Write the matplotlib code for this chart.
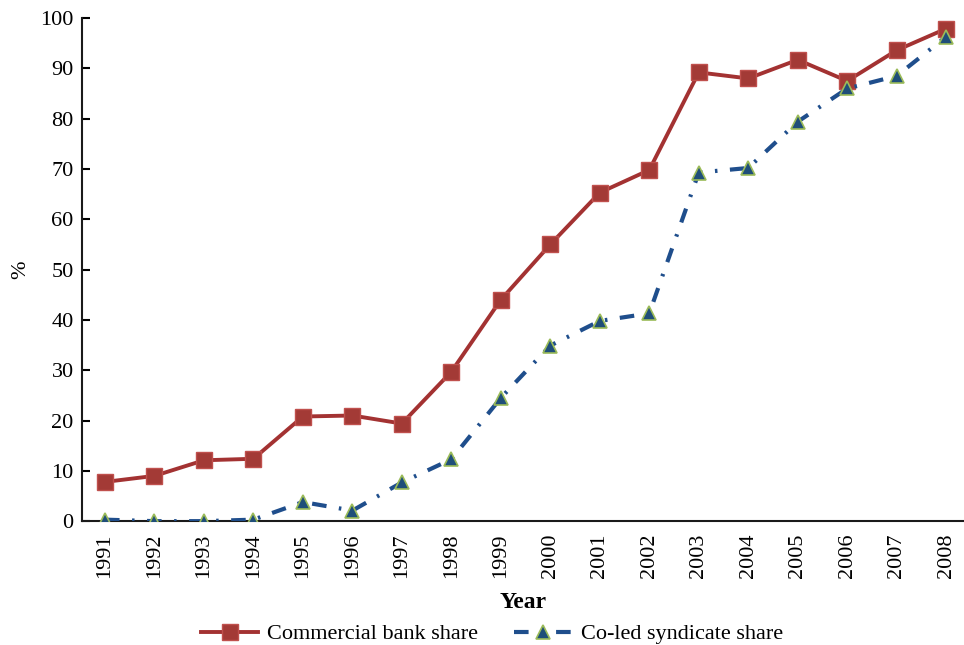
import numpy as np
import matplotlib.pyplot as plt

years = [str(y) for y in range(1991, 2009)]
commercial_bank = [7.8, 9.0, 12.1, 12.4, 20.8, 21.0, 19.4, 29.7, 44.0, 55.0, 65.3, 69.8,
                   89.2, 88.0, 91.7, 87.5, 93.6, 97.9]
co_led = [0.3, 0.0, 0.0, 0.3, 3.8, 2.1, 7.7, 12.3, 24.5, 34.9, 39.8, 41.3,
          69.3, 70.2, 79.4, 86.0, 88.5, 96.3]

plt.rcParams['font.family'] = ['Liberation Serif', 'DejaVu Serif']

fig = plt.figure(figsize=(9.64, 6.45), dpi=100)
ax = fig.add_axes([0.085, 0.192, 0.915, 0.780])

x = np.arange(len(years))
ax.plot(x, commercial_bank, color='#A33232', lw=2.8, marker='s', markersize=11,
        markerfacecolor='#A33A36', markeredgecolor='#C0504D', markeredgewidth=1,
        label='Commercial bank share', zorder=3)
ax.plot(x, co_led, color='#1F4E8C', lw=3, dashes=(3.5, 3, 0.6, 3), marker='^', markersize=10,
        markerfacecolor='#1F4E79', markeredgecolor='#9BBB59', markeredgewidth=1.2,
        label='Co-led syndicate share', zorder=4)

ax.set_xlim(-0.465, 17.36)
ax.set_ylim(0, 100)
ax.set_yticks(range(0, 101, 10))
ax.set_xticks(x)
ax.set_xticklabels(years, rotation=90)
ax.tick_params(axis='y', direction='in', length=6, width=1.5, labelsize=16, pad=6)
ax.tick_params(axis='x', length=0, labelsize=16, pad=9)
for s in ['top', 'right']:
    ax.spines[s].set_visible(False)
for s in ['left', 'bottom']:
    ax.spines[s].set_linewidth(1.5)
    ax.spines[s].set_color('#1a1a1a')

ax.set_ylabel('%', fontsize=16, labelpad=7)
ax.set_xlabel('Year', fontsize=17, fontweight='bold', labelpad=10)
fig.legend(loc='center', bbox_to_anchor=(0.51, 0.017), ncol=2, frameon=False,
           fontsize=16, handlelength=2.6, columnspacing=1.6, handletextpad=0.4,
           borderaxespad=0, borderpad=0)

fig.savefig('out.png', dpi=100)
